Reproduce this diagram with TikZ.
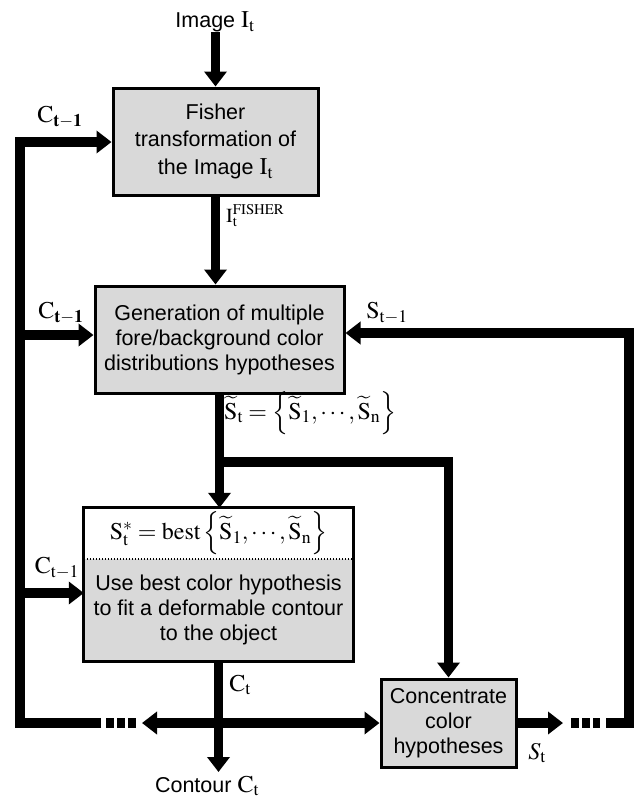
\documentclass[tikz,border=0pt]{standalone}
\usepackage{mathptmx}
\usepackage{fontspec}
\setmainfont{Liberation Serif}
\newfontfamily\arial{Liberation Sans}
\usetikzlibrary{arrows.meta}
\definecolor{boxgray}{RGB}{217,217,217}
\tikzset{
  box/.style={draw=black, line width=3pt, fill=boxgray, inner sep=0pt, align=center,
    font=\arial\fontsize{21.5}{25}\selectfont},
  sanstext/.style={font=\arial\fontsize{21.5}{25}\selectfont, inner sep=0pt, align=center},
  lbl/.style={font=\fontsize{24}{28}\selectfont, inner sep=0pt},
  conn/.style={line width=9.5pt, line join=miter},
  arr/.style={conn, -{Triangle[width=22pt,length=15pt]}},
  dotsline/.style={line width=9.5pt, dash pattern=on 8pt off 3pt},
  border/.style={draw=black, line width=3pt},
}
\begin{document}
\begin{tikzpicture}[x=1pt,y=-1pt]
\useasboundingbox (0,0) rectangle (635,800);
\fill[white] (0,0) rectangle (635,800);

% boxes
\node[box, minimum width=205pt, minimum height=107pt] (b1) at (215.5,141.5)
  {Fisher\\[2pt] transformation of\\[3pt] the Image \fontsize{24}{28}\selectfont$\mathrm{I}_{\mathrm{t}}$};
\node[box, minimum width=249pt, minimum height=107pt] (b2) at (219.5,339.5)
  {Generation of multiple\\ fore/background color\\ distributions hypotheses};
\node[fill=white, minimum width=269pt, minimum height=51pt, inner sep=0pt, lbl] (b3a) at (218.5,533.5)
  {$\mathrm{S}_{\mathrm{t}}^{*} = \mathrm{best}\left\{\widetilde{\mathrm{S}}_{1},\cdots,\widetilde{\mathrm{S}}_{\mathrm{n}}\right\}$};
\node[fill=boxgray, minimum width=269pt, minimum height=102pt, inner sep=0pt, sanstext] (b3b) at (218.5,610)
  {Use best color hypothesis\\ to fit a deformable contour\\ to the object};
\draw[border] (b3a.north west) rectangle (b3b.south east);
\draw[line width=1.5pt, dash pattern=on 1.5pt off 1.5pt] (b3a.south west) -- (b3a.south east);
\node[box, minimum width=135pt, minimum height=88pt] (b4) at (448.5,723)
  {Concentrate\\ color\\ hypotheses};

% labels
\node[sanstext] (img) at (215,22) {Image \fontsize{24}{28}\selectfont$\mathrm{I}_{\mathrm{t}}$};
\node[lbl, font=\fontsize{20}{24}\selectfont, anchor=west] (ifish) at (226,216)
  {$\mathrm{I}_{\mathrm{t}}^{\mathrm{FISHER}}$};
\node[lbl] (c1) at (60,117) {$\mathrm{C}_{\mathbf{t-1}}$};
\node[lbl] (c2) at (61,313) {$\mathrm{C}_{\mathbf{t-1}}$};
\node[lbl] (c3) at (57,568) {$\mathrm{C}_{\mathrm{t-1}}$};
\node[lbl] (s1) at (387,313) {$\mathrm{S}_{\mathrm{t-1}}$};
\node[lbl, anchor=west] (stil) at (224,413)
  {$\widetilde{\mathrm{S}}_{\mathrm{t}}=\left\{\widetilde{\mathrm{S}}_{1},\cdots,\widetilde{\mathrm{S}}_{\mathrm{n}}\right\}$};
\node[lbl] (ct) at (240,685) {$\mathrm{C}_{\mathrm{t}}$};
\node[lbl] (st) at (537,753) {$S_{\mathrm{t}}$};
\node[sanstext] (cont) at (207,786) {Contour \fontsize{24}{28}\selectfont$\mathrm{C}_{\mathrm{t}}$};

% coordinates
\coordinate (K) at (218.5,462);
\coordinate (J) at (218.5,723);
\coordinate (TL) at (142,723);
\coordinate (LD) at (101,723);
\coordinate (LB) at (20,723);
\coordinate (LT) at (20,142);
\coordinate (L2) at (20,335);
\coordinate (L3) at (20,593);
\coordinate (DLa) at (106,723);
\coordinate (DLb) at (136,723);
\coordinate (RT) at (563,723);
\coordinate (DRa) at (571,723);
\coordinate (DRb) at (600,723);
\coordinate (RS) at (606,723);
\coordinate (RB) at (629,723);
\coordinate (RU) at (629,333);
\coordinate (CB) at (218.5,772);

% connectors
\draw[arr] (img.south -| b1.north) -- (b1.north);
\draw[arr] (b1.south) -- (b1.south |- b2.north);
\draw[arr] (b2.south) -- (b2.south |- b3a.north);
\draw[arr] (K) -- (K -| b4.north) -- (b4.north);
\draw[arr] (LD) -- (LB) -- (LT) -- (LT -| b1.west);
\draw[arr] (L2) -- (L2 -| b2.west);
\draw[arr] (L3) -- (L3 -| b3b.west);
\draw[dotsline] (DLa) -- (DLb);
\draw[arr] (b3b.south) -- (CB);
\draw[arr] (J) -- (TL);
\draw[arr] (J) -- (b4.west);
\draw[arr] (b4.east) -- (RT);
\draw[dotsline] (DRa) -- (DRb);
\draw[arr] (RS) -- (RB) -- (RU) -- (RU -| b2.east);
\end{tikzpicture}
\end{document}
